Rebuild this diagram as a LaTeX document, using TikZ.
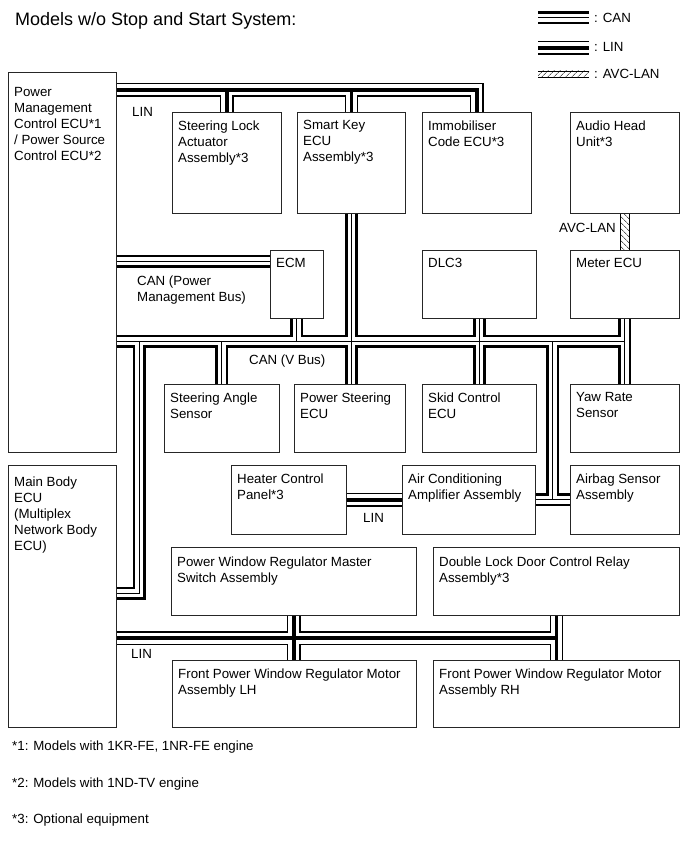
\documentclass[tikz,border=0pt]{standalone}
\usepackage{fontspec}
\setmainfont{Liberation Sans}
\usetikzlibrary{calc,backgrounds,patterns.meta}

\begin{document}
\begin{tikzpicture}[
  x=1pt, y=-1pt,
  font=\fontsize{13.3}{16}\selectfont,
  unit/.style={draw=black!85, line width=0.8pt, anchor=north west, inner sep=0pt},
  txt/.style={anchor=north west, align=left, inner xsep=6pt, inner ysep=8.3pt},
  tag/.style={anchor=base west, inner sep=0pt},
  canout/.style={line width=13pt, draw=black},
  cangap/.style={line width=7.5pt, draw=white},
  canmid/.style={line width=1pt, draw=black},
  linout/.style={line width=13.5pt, draw=black},
  lingap/.style={line width=11pt, draw=white},
  linmid/.style={line width=3.5pt, draw=black},
  avch/.style={pattern={Lines[angle=45, distance=4pt, line width=0.6pt]}},
  avcv/.style={pattern={Lines[angle=-45, distance=4pt, line width=0.6pt]}}
]
\useasboundingbox (0,0) rectangle (689,853);

\node[tag, font=\fontsize{18}{22}\selectfont] (title) at (15,26) {Models w/o Stop and Start System:};

% legend
\coordinate (kcan) at (538,18);
\coordinate (klin) at (538,48);
\coordinate (kavc) at (538,74);
\foreach \layer in {canout,cangap,canmid} \draw[\layer] (kcan) -- ++(51,0);
\foreach \layer in {linout,lingap,linmid} \draw[\layer] (klin) -- ++(51,0);
\fill[avch] ([yshift=3pt]kavc) rectangle ([xshift=51pt,yshift=-3pt]kavc);
\draw[line width=0.6pt] ([yshift=3pt]kavc) -- ++(51,0) ([yshift=-3pt]kavc) -- ++(51,0);
\node[tag] (kcantxt) at (594,23) {: CAN};
\node[tag] (klintxt) at (594,52) {: LIN};
\node[tag] (kavctxt) at (594,79) {: AVC-LAN};

% units
\node[unit, minimum width=108pt, minimum height=380pt,
  label={[txt, inner ysep=15pt]north west:Power\\Management\\Control ECU*1\\/ Power Source\\Control ECU*2}] (pmecu) at (8,72) {};
\node[unit, minimum width=109pt, minimum height=101pt,
  label={[txt]north west:Steering Lock\\Actuator\\Assembly*3}] (slock) at (172,112) {};
\node[unit, minimum width=108pt, minimum height=101pt,
  label={[txt]north west:Smart Key\\ECU\\Assembly*3}] (smkey) at (297,112) {};
\node[unit, minimum width=109pt, minimum height=101pt,
  label={[txt]north west:Immobiliser\\Code ECU*3}] (immob) at (422,112) {};
\node[unit, minimum width=109pt, minimum height=101pt,
  label={[txt]north west:Audio Head\\Unit*3}] (audio) at (570,112) {};

\node[unit, minimum width=53pt, minimum height=68pt,
  label={[txt]north west:ECM}] (ecm) at (270,250) {};
\node[unit, minimum width=114pt, minimum height=68pt,
  label={[txt]north west:DLC3}] (dlc) at (422,250) {};
\node[unit, minimum width=109pt, minimum height=68pt,
  label={[txt]north west:Meter ECU}] (meter) at (570,250) {};

\node[unit, minimum width=115pt, minimum height=68pt,
  label={[txt]north west:Steering Angle\\Sensor}] (sangle) at (164,384) {};
\node[unit, minimum width=111pt, minimum height=68pt,
  label={[txt]north west:Power Steering\\ECU}] (psteer) at (294,384) {};
\node[unit, minimum width=114pt, minimum height=68pt,
  label={[txt]north west:Skid Control\\ECU}] (skid) at (422,384) {};
\node[unit, minimum width=109pt, minimum height=68pt,
  label={[txt]north west:Yaw Rate\\Sensor}] (yaw) at (570,384) {};

\node[unit, minimum width=108pt, minimum height=262pt,
  label={[txt, inner ysep=12pt]north west:Main Body\\ECU\\(Multiplex\\Network Body\\ECU)}] (mbody) at (8,465) {};
\node[unit, minimum width=115pt, minimum height=69pt,
  label={[txt]north west:Heater Control\\Panel*3}] (heater) at (231,465) {};
\node[unit, minimum width=133pt, minimum height=69pt,
  label={[txt]north west:Air Conditioning\\Amplifier Assembly}] (acamp) at (402,465) {};
\node[unit, minimum width=109pt, minimum height=69pt,
  label={[txt]north west:Airbag Sensor\\Assembly}] (airbag) at (570,465) {};

\node[unit, minimum width=245pt, minimum height=68pt,
  label={[txt, inner ysep=10pt]north west:Power Window Regulator Master\\Switch Assembly}] (pwmaster) at (171,547) {};
\node[unit, minimum width=246pt, minimum height=68pt,
  label={[txt, inner ysep=10pt]north west:Double Lock Door Control Relay\\Assembly*3}] (dlock) at (433,547) {};
\node[unit, minimum width=244pt, minimum height=67pt,
  label={[txt]north west:Front Power Window Regulator Motor\\Assembly LH}] (fpwlh) at (172,660) {};
\node[unit, minimum width=246pt, minimum height=67pt,
  label={[txt]north west:Front Power Window Regulator Motor\\Assembly RH}] (fpwrh) at (433,660) {};

% bus levels
\coordinate (lt) at (0,90);
\coordinate (pmb) at (0,261);
\coordinate (vb) at (0,341);
\coordinate (vbl) at (139,341);
\coordinate (mbj) at (0,593);
\coordinate (lb) at (0,638);
\coordinate (acair) at ($(acamp.east)!0.5!(airbag.west)$);

\begin{scope}[on background layer]
  % CAN
  \foreach \layer in {canout,cangap,canmid}{
    \draw[\layer] (pmecu.east |- pmb) -- (ecm.west |- pmb);
    \draw[\layer] (pmecu.east |- vb) -- (meter.south |- vb);
    \draw[\layer] (ecm.south) -- (ecm.south |- vb);
    \draw[\layer] (smkey.south) -- (smkey.south |- psteer.north);
    \draw[\layer] (dlc.south) -- (skid.north);
    \draw[\layer] (meter.south) -- (yaw.north);
    \draw[\layer] (sangle.north |- vb) -- (sangle.north);
    \draw[\layer] (acair |- vb) -- (acair);
    \draw[\layer] (acamp.east) -- (airbag.west);
    \draw[\layer] (vbl) -- (vbl |- mbj) -- (mbody.east |- mbj);
  }
  % LIN
  \foreach \layer in {linout,lingap,linmid}{
    \draw[\layer] (pmecu.east |- lt) -| (immob.north);
    \draw[\layer] (slock.north |- lt) -- (slock.north);
    \draw[\layer] (smkey.north |- lt) -- (smkey.north);
    \draw[\layer] (heater.east) -- (acamp.west);
    \draw[\layer] (mbody.east |- lb) -- (dlock.south |- lb);
    \draw[\layer] (pwmaster.south) -- (pwmaster.south |- fpwlh.north);
    \draw[\layer] (dlock.south) -- (fpwrh.north);
  }
  % AVC-LAN
  \fill[avcv] ([xshift=-4.5pt]audio.south) rectangle ([xshift=4.5pt]meter.north);
  \draw[line width=0.6pt] ([xshift=-4.5pt]audio.south) -- ([xshift=-4.5pt]meter.north)
    ([xshift=4.5pt]audio.south) -- ([xshift=4.5pt]meter.north);
\end{scope}

% bus names
\node[tag] (lintop) at (132,117) {LIN};
\node[anchor=north west, inner sep=0pt, align=left] (pmbtxt) at (137,275.5) {CAN (Power\\Management Bus)};
\node[tag] (vbtxt) at (249,364) {CAN (V Bus)};
\node[anchor=base east, inner sep=0pt] (avctxt) at (616,232) {AVC-LAN};
\node[tag] (linmid) at (363,522) {LIN};
\node[tag] (linbot) at (131,658) {LIN};

% notes
\node[tag] (note1) at (12,750) {*1: Models with 1KR-FE, 1NR-FE engine};
\node[tag] (note2) at (12,787) {*2: Models with 1ND-TV engine};
\node[tag] (note3) at (12,823) {*3: Optional equipment};

\end{tikzpicture}
\end{document}
